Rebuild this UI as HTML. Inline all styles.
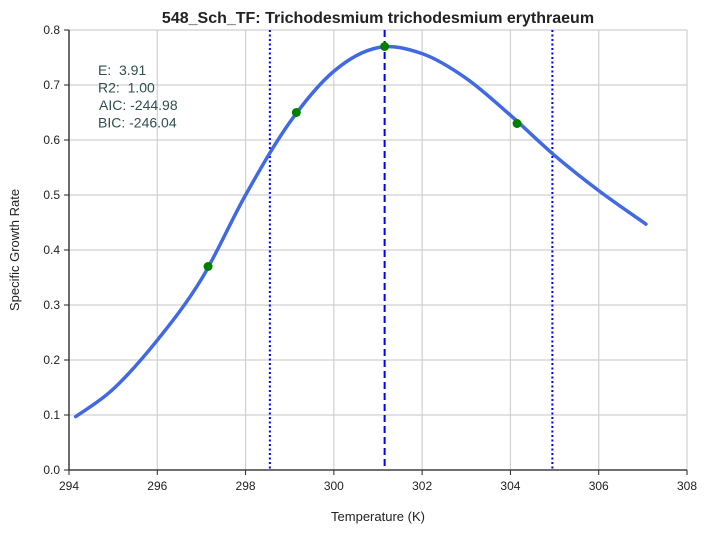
<!DOCTYPE html>
<html><head><meta charset="utf-8"><style>
body{margin:0;background:#fff;font-family:"Liberation Sans",sans-serif}
text{white-space:pre}
</style></head><body>
<svg id="c" width="710" height="533" xmlns="http://www.w3.org/2000/svg"></svg>
<script>
const xTicks=[294,296,298,300,302,304,306,308];
const yTicks=[0.0,0.1,0.2,0.3,0.4,0.5,0.6,0.7,0.8];
const curveT=[294.15,295,296,297,298,299,300,301,302,303,304,305,306,307.07];
const curveR=[0.097,0.147,0.236,0.347,0.5,0.632,0.725,0.768,0.757,0.712,0.645,0.572,0.508,0.447];
const obsT=[297.15,299.15,301.15,304.15];
const obsR=[0.37,0.65,0.77,0.63];
const dottedT=[298.55,304.95];
const peakT=301.15;
const stats=["E:  3.91","R2:  1.00","AIC: -244.98","BIC: -246.04"];
const NS="http://www.w3.org/2000/svg",s=document.getElementById('c');
const X0=69,X1=687,Y0=470,Y1=30;
const sx=v=>X0+(v-294)/(308-294)*(X1-X0);
const sy=v=>Y0-(v/0.8)*(Y0-Y1);
function el(t,a,txt){const e=document.createElementNS(NS,t);for(const k in a)e.setAttribute(k,a[k]);if(txt!=null)e.textContent=txt;s.appendChild(e);return e;}
xTicks.forEach(t=>{
 const g=el('line',{x1:sx(t),x2:sx(t),y1:Y1,y2:Y0,stroke:'#d0d0d0','stroke-width':1.2});
 
 
 const tk=el('line',{x1:sx(t),x2:sx(t),y1:Y0,y2:Y0+5,stroke:'#222'});
 
 
 const l=el('text',{x:sx(t),y:Y0+20,'text-anchor':'middle','font-size':12,fill:'#222'},t);
 
 
});
yTicks.forEach(t=>{
 const g=el('line',{x1:X0,x2:X1,y1:sy(t),y2:sy(t),stroke:'#d0d0d0','stroke-width':1.2});
 
 
 const tk=el('line',{x1:X0-5,x2:X0,y1:sy(t),y2:sy(t),stroke:'#222'});
 
 
 const l=el('text',{x:X0-9,y:sy(t)+4,'text-anchor':'end','font-size':12,fill:'#222'},t.toFixed(1));
 
 
});
dottedT.forEach(t=>{
 const l=el('line',{x1:sx(t),x2:sx(t),y1:Y1,y2:Y0,stroke:'#0000ff','stroke-width':2,'stroke-dasharray':'2,2.5'});
 
 
});
const pk=el('line',{x1:sx(peakT),x2:sx(peakT),y1:Y1,y2:Y0,stroke:'#0000ff','stroke-width':2,'stroke-dasharray':'7,4'});


const P=curveT.map((t,i)=>[sx(t),sy(curveR[i])]);
let d='M'+P[0][0]+','+P[0][1];
for(let i=0;i<P.length-1;i++){
 const p0=P[Math.max(i-1,0)],p1=P[i],p2=P[i+1],p3=P[Math.min(i+2,P.length-1)];
 const c1=[p1[0]+(p2[0]-p0[0])/6,p1[1]+(p2[1]-p0[1])/6];
 const c2=[p2[0]-(p3[0]-p1[0])/6,p2[1]-(p3[1]-p1[1])/6];
 d+=`C${c1[0]},${c1[1]} ${c2[0]},${c2[1]} ${p2[0]},${p2[1]}`;
}
const cv=el('path',{d:d,fill:'none',stroke:'#4169e1','stroke-width':3.5,'stroke-linejoin':'round','stroke-linecap':'round'});


obsT.forEach((t,i)=>{
 const p=el('circle',{cx:sx(t),cy:sy(obsR[i]),r:4.5,fill:'#008000'});
 
 
});
const ax=el('path',{d:`M${X0},${Y1}V${Y0}H${X1}`,fill:'none',stroke:'#222','stroke-width':1.3});


stats.forEach((t,i)=>{
 const l=el('text',{x:[98,98,99,98][i],y:75+i*17.5,'font-size':14,fill:'#2f4f4f'},t);
 
 
});
const ti=el('text',{x:378,y:23,'text-anchor':'middle','font-size':16,'font-weight':'bold',fill:'#222'},'548_Sch_TF: Trichodesmium trichodesmium erythraeum');


const xl=el('text',{x:378,y:521,'text-anchor':'middle','font-size':13,fill:'#222'},'Temperature (K)');


const yl=el('text',{x:0,y:0,'text-anchor':'middle','font-size':13,fill:'#222',transform:'translate(19,250) rotate(-90)'},'Specific Growth Rate');


</script>
</body></html>
